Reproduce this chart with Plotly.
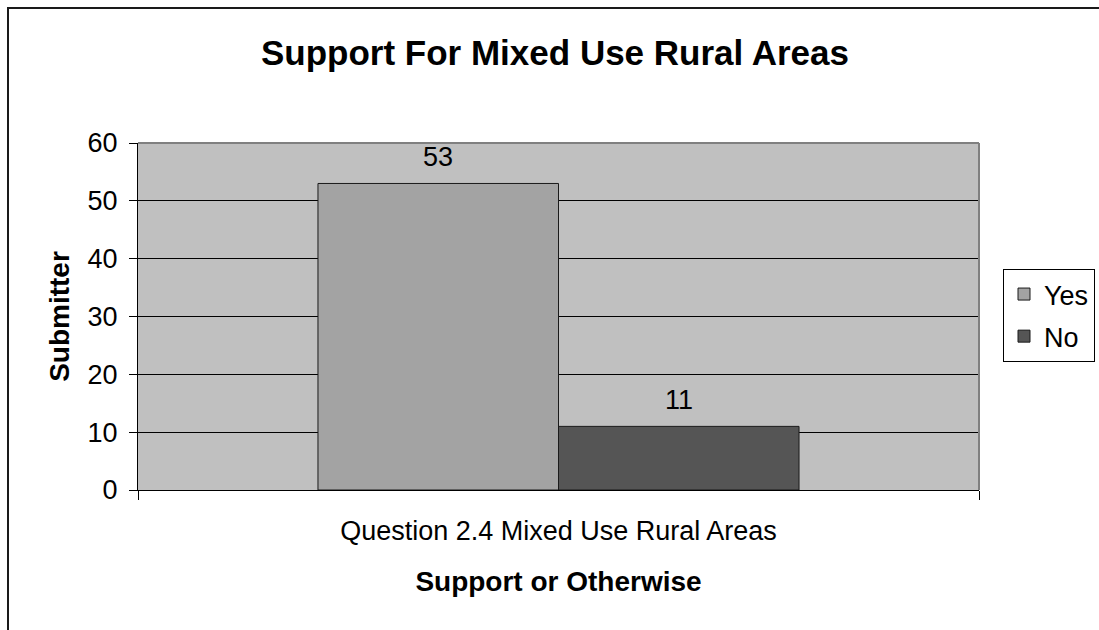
import plotly.graph_objects as go

categories = ["Question 2.4 Mixed Use Rural Areas"]
series_names = ["Yes", "No"]
series_values = [[53], [11]]
series_colors = ["#A3A3A3", "#555555"]
y_ticks = [0, 10, 20, 30, 40, 50, 60]

FONT = "Liberation Sans, Arial, sans-serif"

fig = go.Figure()
for name, vals, col in zip(series_names, series_values, series_colors):
    fig.add_trace(go.Bar(
        x=categories, y=vals, name=name, legendgroup=name,
        marker=dict(color=col, line=dict(color="#1a1a1a", width=1)),
    ))

# data labels above the bars
n = len(series_names)
bar_px = 240.5
for i, (name, vals) in enumerate(zip(series_names, series_values)):
    for c, v in zip(categories, vals):
        fig.add_annotation(
            x=c, y=v, text=str(v), showarrow=False,
            xshift=(i - (n - 1) / 2) * bar_px, yshift=26, yanchor="middle",
            font=dict(family=FONT, size=27, color="black"),
        )

W, H = 1099, 630
L, R, T, B = 138, 979, 143, 490
pw, ph = R - L, B - T

# outer chart border
fig.add_shape(type="rect", xref="paper", yref="paper",
              x0=(8 - L) / pw, x1=(W + 20 - L) / pw,
              y0=(B - (H + 20)) / ph, y1=(B - 8) / ph,
              line=dict(color="#1a1a1a", width=2), layer="below")
# plot area top and right border (gray)
fig.add_shape(type="line", xref="paper", yref="paper", x0=0, x1=1, y0=1, y1=1,
              line=dict(color="#808080", width=2), layer="above")
fig.add_shape(type="line", xref="paper", yref="paper", x0=1, x1=1, y0=0, y1=1,
              line=dict(color="#808080", width=2), layer="above")

fig.update_layout(
    width=W, height=H,
    margin=dict(l=L, r=W - R, t=T, b=H - B, pad=0, autoexpand=False),
    paper_bgcolor="white", plot_bgcolor="#C0C0C0",
    font=dict(family=FONT, color="black"),
    barmode="group", bargap=0.428, bargroupgap=0,
    title=dict(text="<b>Support For Mixed Use Rural Areas</b>",
               font=dict(family=FONT, size=35, color="black"),
               x=555 / W, xanchor="center", xref="container",
               y=1 - 53 / H, yanchor="middle", yref="container"),
    showlegend=True,
    legend=dict(x=(1003 - L) / pw, xanchor="left", y=(B - 269) / ph, yanchor="top",
                bgcolor="white", bordercolor="black", borderwidth=1,
                font=dict(family=FONT, size=27, color="black"),
                itemwidth=30, traceorder="grouped", tracegroupgap=4),
    xaxis=dict(
        type="category", range=[-0.5, 0.5],
        showline=True, linecolor="black", linewidth=1,
        ticks="outside", ticklen=9, tickcolor="black", tickson="boundaries",
        tickfont=dict(family=FONT, size=27, color="black"),
        ticklabelstandoff=17,
        showgrid=False, zeroline=False,
        title=dict(text="<b>Support or Otherwise</b>", standoff=25,
                   font=dict(family=FONT, size=28, color="black")),
    ),
    yaxis=dict(
        range=[0, 60], tickvals=y_ticks,
        showline=True, linecolor="black", linewidth=1,
        ticks="outside", ticklen=8, tickcolor="black",
        tickfont=dict(family=FONT, size=27, color="black"),
        ticklabelstandoff=6,
        showgrid=True, gridcolor="black", gridwidth=1,
        zeroline=False,
        title=dict(text="<b>Submitter</b>", standoff=9,
                   font=dict(family=FONT, size=28, color="black")),
    ),
)

fig.write_html("out.html")
